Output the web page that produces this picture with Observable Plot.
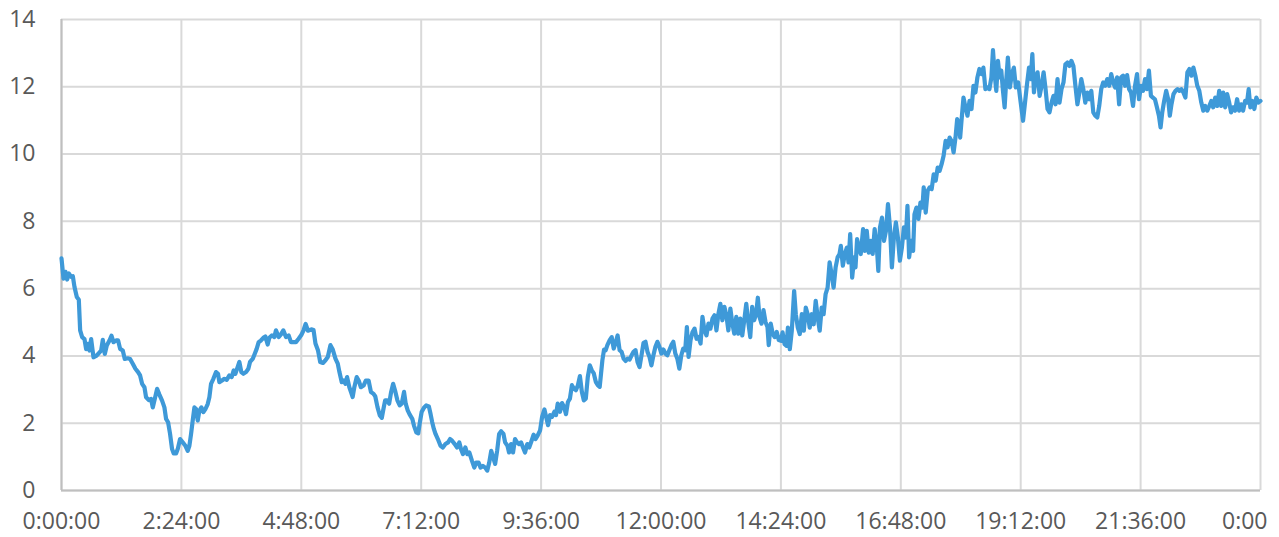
<!DOCTYPE html>
<html>
<head>
<meta charset="utf-8">
<script src="https://cdn.jsdelivr.net/npm/d3@7"></script>
<script src="https://cdn.jsdelivr.net/npm/@observablehq/plot@0.6"></script>
<style>
  html, body { margin: 0; padding: 0; background: #ffffff; overflow: hidden; }
</style>
</head>
<body>
<div id="chart"></div>
<script>
// Time of day, in minutes since 0:00:00
const minutes = [
  0, 2.4, 4.8, 6.8, 8.8, 11.6, 13.6, 15.6, 18.4, 20.8,
  22.4, 24.8, 27.6, 29.6, 31.6, 33.6, 35.6, 38.4, 41.6, 44.8,
  47.6, 49.6, 52, 54.4, 57.6, 60, 62.4, 65.6, 68, 70.4,
  73.6, 76, 79.6, 82.4, 85.6, 88.8, 92, 94.4, 96.8, 99.6,
  101.6, 104.8, 107.6, 109.6, 112, 114.8, 117.6, 120.8, 123.6, 125.6,
  128, 130.4, 132.8, 134.8, 137.6, 139.6, 142.4, 145.6, 148.8, 151.6,
  153.6, 155.6, 157.6, 159.6, 161.6, 163.6, 165.6, 168, 170.4, 172.8,
  175.6, 177.6, 179.6, 182.4, 185.6, 188, 189.6, 192.8, 195.6, 198.4,
  201.6, 204.4, 206.8, 208.8, 211.6, 213.6, 216, 218.4, 221.6, 224.4,
  226.4, 229.6, 232, 234.4, 236.8, 239.6, 242.4, 244.8, 247.6, 249.6,
  252.8, 255.6, 257.6, 260.8, 263.6, 266.4, 269.6, 272.8, 275.6, 278.4,
  281.6, 284.8, 288, 290.8, 293.2, 296, 300, 302.7, 305, 308,
  310.7, 314, 317, 319.8, 323, 325.8, 329, 331.8, 333.8, 336.6,
  339, 341, 343, 345.7, 347.7, 349.7, 351.7, 354.5, 356.9, 359.6,
  362.8, 365.6, 368.8, 371.6, 374.4, 376.8, 379.5, 382.3, 384.7, 386.7,
  388.7, 391, 393.5, 395.9, 398.3, 400.6, 403.4, 406.2, 408.6, 411.4,
  413.4, 415.8, 418.1, 421.3, 423.3, 426.1, 428.5, 430.1, 432.5, 435.3,
  438, 441.2, 443.2, 445.2, 447.2, 449.2, 452, 455.2, 458, 461.1,
  464.3, 466.7, 469.1, 472.3, 475.1, 477.8, 479.8, 482.2, 485, 487.4,
  489.8, 493, 495.8, 498.1, 500.9, 503.3, 506.1, 508.9, 511.3, 513.7,
  516.1, 518.5, 520.8, 523.2, 525.6, 528, 530.8, 532.8, 535.6, 537.5,
  539.9, 542.3, 544.7, 547.1, 549.5, 551.9, 554.3, 556.7, 559.4, 561.8,
  564.6, 567, 569.4, 571.8, 574.8, 577.2, 580, 582, 584.4, 586.7,
  589.1, 591.9, 593.9, 595.9, 598.7, 601.1, 603.5, 605.9, 608.2, 610.6,
  613, 615.4, 617.8, 620.2, 622.6, 625, 627.3, 629.7, 632.1, 634.5,
  636.9, 639.3, 641.7, 644.1, 646.4, 648, 649.6, 651.6, 653.6, 655.6,
  658.4, 660.8, 663.2, 665.5, 667.9, 670.3, 672.7, 675.1, 677.5, 679.9,
  682.3, 684.7, 687, 689.4, 691.8, 694.2, 696.6, 699, 701.4, 703.8,
  706.2, 708.5, 710.9, 713.3, 715.7, 718.1, 720.5, 722.9, 725.3, 727.6,
  730, 732.4, 734.8, 737.2, 739.6, 742, 744.4, 746.7, 749.1, 751.1,
  753.1, 755.5, 757.9, 760.3, 762.7, 765.1, 767.5, 769.8, 772.2, 774.6,
  777, 779.4, 781.8, 784.2, 786.6, 789, 791.3, 793.7, 796.1, 798.5,
  800.9, 803.3, 805.7, 808, 810.4, 812.8, 815.2, 817.6, 820, 822.4,
  824.8, 827.2, 829.5, 831.9, 834.3, 836.3, 838.3, 840.7, 843.1, 845.5,
  847.9, 849.4, 851.8, 854.2, 856.6, 859, 861.4, 864, 866, 868.4,
  870.8, 872.4, 874.7, 877.1, 879.9, 881.9, 884.3, 886.7, 889.1, 891.5,
  893.9, 896.2, 898.6, 901, 903.4, 905.8, 908.2, 910.6, 913, 915.3,
  917.7, 920.1, 922.5, 924.9, 927.3, 929.7, 932.1, 934.4, 936, 938.4,
  940.8, 943.2, 945.2, 947.2, 949.6, 952, 953.6, 955.5, 957.5, 959.9,
  962.7, 964.7, 967.1, 969.5, 971.9, 974.2, 976.6, 979, 981, 983,
  985.4, 987.8, 990.2, 992.6, 995, 997.3, 999.7, 1002.1, 1004.5, 1006.9,
  1009.3, 1011.7, 1014.1, 1016, 1018, 1020.4, 1022.8, 1024.4, 1026.8, 1029.2,
  1031.6, 1034, 1035.5, 1037.9, 1040.3, 1042.7, 1045.1, 1047.5, 1049.9, 1052.3,
  1054.6, 1057, 1059.4, 1061.8, 1064.2, 1066.6, 1069, 1071.4, 1073.7, 1075.7,
  1077.7, 1079.3, 1080.9, 1083.3, 1085.7, 1088.1, 1090.5, 1092.9, 1095.3, 1097.6,
  1100, 1102.4, 1104.8, 1107.2, 1109.6, 1112, 1114.4, 1116.8, 1118.7, 1120.7,
  1122.7, 1124.7, 1126.7, 1128.7, 1130.7, 1132.7, 1134.6, 1136.6, 1139, 1141.4,
  1143.8, 1146.2, 1149, 1152, 1154.8, 1157.2, 1159.6, 1162, 1164, 1166,
  1167.9, 1169.9, 1172.3, 1174.7, 1177.1, 1179.5, 1181.9, 1184.2, 1186.6, 1189,
  1191.4, 1193.8, 1196.2, 1198.6, 1201, 1203.4, 1205.7, 1208.1, 1210.5, 1212.9,
  1215.3, 1217.7, 1220.1, 1222.5, 1224.8, 1227.2, 1229.6, 1232, 1234.4, 1236.8,
  1239.2, 1241.6, 1244, 1246.3, 1248.7, 1251.1, 1253.5, 1255.9, 1258.3, 1260.7,
  1263.1, 1265.4, 1267.8, 1270.2, 1272.6, 1275, 1277.4, 1279.8, 1282.2, 1284.5,
  1286.9, 1289.3, 1291.7, 1294.1, 1296.5, 1298.9, 1301.3, 1303.6, 1306, 1308.4,
  1310.8, 1313.2, 1315.6, 1318, 1320, 1322, 1324.3, 1326.7, 1329.1, 1331.1,
  1333.1, 1335.5, 1337.9, 1340.3, 1342.6, 1345, 1347.4, 1349.8, 1352.2, 1354.6,
  1357, 1359.4, 1361.8, 1364.1, 1366.5, 1368.9, 1371.3, 1373.7, 1376.1, 1378.5,
  1380.9, 1383.2, 1385.6, 1388, 1390.4, 1392.8, 1395.2, 1397.6, 1400, 1402.4,
  1404.7, 1407.1, 1409.5, 1411.9, 1414.3, 1416.7, 1419.1, 1421.5, 1423.8, 1425.8,
  1427.8, 1430.2, 1432.6, 1435, 1437.4, 1440
];

// Measured level at each time
const levels = [
  6.9, 6.3, 6.5, 6.27, 6.45, 6.35, 6.37, 6.05, 5.75, 5.67,
  4.76, 4.56, 4.5, 4.2, 4.36, 4.16, 4.5, 3.96, 4.0, 4.08,
  4.16, 4.48, 4.06, 4.31, 4.46, 4.6, 4.41, 4.46, 4.46, 4.21,
  4.16, 3.91, 3.93, 3.91, 3.77, 3.62, 3.52, 3.42, 3.17, 3.07,
  2.77, 2.69, 2.72, 2.47, 2.72, 3.02, 2.85, 2.67, 2.47, 2.13,
  2.03, 1.68, 1.23, 1.1, 1.1, 1.23, 1.53, 1.43, 1.33, 1.18,
  1.33, 1.68, 2.08, 2.47, 2.42, 2.08, 2.37, 2.47, 2.33, 2.42,
  2.57, 2.77, 3.17, 3.32, 3.52, 3.47, 3.22, 3.27, 3.32, 3.29,
  3.42, 3.37, 3.57, 3.47, 3.67, 3.82, 3.52, 3.47, 3.52, 3.62,
  3.82, 3.91, 4.06, 4.21, 4.41, 4.46, 4.54, 4.58, 4.34, 4.54,
  4.61, 4.56, 4.76, 4.56, 4.64, 4.76, 4.56, 4.61, 4.41, 4.41,
  4.41, 4.51, 4.62, 4.77, 4.95, 4.75, 4.79, 4.77, 4.37, 4.17,
  3.82, 3.79, 3.87, 3.97, 4.32, 4.19, 3.92, 3.77, 3.52, 3.22,
  3.27, 3.17, 3.37, 3.07, 2.93, 2.78, 3.07, 3.37, 3.27, 3.07,
  3.12, 3.27, 3.27, 2.93, 2.88, 2.8, 2.48, 2.23, 2.16, 2.43,
  2.68, 2.68, 2.58, 2.93, 3.17, 2.97, 2.68, 2.53, 2.58, 2.93,
  2.58, 2.38, 2.26, 2.13, 1.93, 1.73, 1.7, 1.98, 2.33, 2.46,
  2.53, 2.5, 2.28, 2.03, 1.83, 1.68, 1.53, 1.33, 1.28, 1.38,
  1.43, 1.53, 1.48, 1.38, 1.28, 1.43, 1.23, 1.08, 1.28, 1.08,
  1.13, 0.88, 0.68, 0.83, 0.83, 0.68, 0.73, 0.68, 0.59, 0.83,
  1.18, 0.98, 0.79, 1.18, 1.68, 1.76, 1.68, 1.43, 1.33, 1.13,
  1.38, 1.13, 1.53, 1.43, 1.38, 1.43, 1.28, 1.13, 1.38, 1.28,
  1.48, 1.66, 1.53, 1.63, 1.79, 2.19, 2.41, 2.19, 1.94, 2.24,
  2.19, 2.34, 2.24, 2.58, 2.34, 2.6, 2.49, 2.27, 2.63, 2.73,
  3.13, 3.03, 2.98, 3.13, 3.4, 2.93, 2.68, 2.73, 3.38, 3.72,
  3.57, 3.48, 3.23, 3.13, 3.08, 3.48, 3.87, 4.19, 4.17, 4.32,
  4.47, 4.56, 4.22, 4.39, 4.61, 4.17, 4.12, 3.92, 3.85, 3.92,
  3.89, 4.02, 4.12, 4.17, 3.82, 3.67, 4.02, 4.39, 4.42, 4.12,
  3.97, 3.72, 4.02, 4.27, 4.42, 4.27, 4.07, 4.19, 4.07, 4.02,
  4.17, 4.32, 4.42, 4.07, 3.92, 3.62, 4.02, 4.22, 4.17, 4.86,
  3.97, 4.47, 4.71, 4.81, 4.51, 4.56, 4.37, 5.16, 4.76, 4.61,
  4.96, 4.81, 5.11, 5.21, 4.76, 5.26, 5.55, 5.06, 5.46, 5.21,
  4.76, 5.41, 4.96, 4.66, 5.16, 4.66, 5.11, 4.61, 5.06, 5.55,
  5.01, 4.56, 5.46, 5.06, 5.26, 5.73, 5.16, 4.96, 5.36, 5.01,
  4.86, 4.32, 4.96, 4.66, 4.56, 4.71, 4.47, 4.45, 4.7, 4.35,
  4.3, 4.84, 4.2, 4.75, 5.93, 5.24, 4.84, 4.65, 5.24, 4.75,
  5.44, 5.24, 4.84, 5.24, 4.94, 5.64, 5.14, 4.75, 5.44, 5.24,
  5.84, 6.03, 6.78, 6.43, 6.03, 6.63, 6.93, 7.03, 7.27, 6.68,
  7.03, 7.22, 6.78, 7.62, 6.33, 6.93, 6.63, 7.47, 7.22, 7.03,
  7.77, 7.12, 7.72, 7.07, 7.42, 7.03, 7.77, 7.32, 6.53, 7.82,
  8.11, 7.42, 7.72, 8.51, 7.82, 6.63, 7.52, 7.97, 7.52, 6.83,
  7.22, 7.82, 7.52, 8.46, 6.93, 7.42, 7.12, 8.21, 8.41, 8.07,
  8.56, 8.41, 9.01, 8.26, 8.91, 9.01, 8.96, 9.4, 9.21, 9.6,
  9.5, 9.7, 9.95, 10.39, 10.2, 10.49, 10.39, 10.05, 10.49, 11.04,
  10.89, 10.49, 10.99, 11.68, 11.39, 11.14, 11.58, 11.34, 12.03, 11.83,
  12.28, 12.53, 12.38, 12.57, 11.93, 11.98, 11.93, 12.28, 13.09, 12.38,
  11.88, 12.77, 12.28, 12.48, 11.88, 11.39, 12.18, 12.87, 11.98, 12.38,
  12.57, 11.98, 12.13, 11.53, 10.99, 11.53, 12.08, 12.57, 12.23, 12.97,
  11.83, 12.28, 12.43, 11.73, 12.03, 12.43, 11.93, 11.34, 11.24, 11.53,
  11.73, 11.48, 12.23, 11.53, 11.93, 12.13, 12.67, 12.72, 12.62, 12.77,
  12.62, 12.03, 11.48, 11.83, 12.23, 11.93, 11.53, 11.83, 11.63, 11.88,
  11.24, 11.14, 11.09, 11.43, 11.93, 12.13, 12.03, 12.23, 12.03, 12.38,
  12.13, 11.98, 12.28, 11.48, 12.28, 12.33, 12.03, 12.35, 11.93, 11.83,
  11.43, 12.03, 12.38, 11.63, 12.03, 11.88, 12.23, 11.93, 12.48, 11.73,
  11.68, 11.63, 11.39, 11.14, 10.79, 11.24, 11.58, 11.88, 11.63, 11.14,
  11.48, 11.78, 11.88, 11.93, 11.88, 11.93, 11.83, 11.68, 12.43, 12.53,
  12.33, 12.57, 12.33, 12.03, 11.88, 11.53, 11.29, 11.43, 11.29, 11.43,
  11.58, 11.39, 11.68, 11.43, 11.88, 11.43, 11.83, 11.39, 11.78, 11.53,
  11.24, 11.39, 11.29, 11.63, 11.29, 11.48, 11.29, 11.58, 11.53, 11.93,
  11.39, 11.58, 11.34, 11.68, 11.53, 11.58
];

// Axis ticks and their labels
const xTicks = [0, 144, 288, 432, 576, 720, 864, 1008, 1152, 1296, 1440];
const xTickLabels = ["0:00:00", "2:24:00", "4:48:00", "7:12:00", "9:36:00", "12:00:00",
                     "14:24:00", "16:48:00", "19:12:00", "21:36:00", "0:00"];
const yTicks = [0, 2, 4, 6, 8, 10, 12, 14];
const yTickLabels = ["0", "2", "4", "6", "8", "10", "12", "14"];

const data = minutes.map((m, i) => ({ m, v: levels[i] }));

const gridColor = "#d9d9d9";
const axisColor = "#bfbfbf";
const lineColor = "#3e99d8";

const chart = Plot.plot({
  width: 1279,
  height: 537,
  marginLeft: 61,
  marginRight: 19,
  marginTop: 19,
  marginBottom: 47,
  style: { fontFamily: "'Open Sans', sans-serif", fontSize: "23px", color: "#595959", background: "#ffffff" },
  x: { domain: [0, 1440], label: null },
  y: { domain: [0, 14], label: null },
  marks: [
    Plot.gridX(xTicks, { stroke: gridColor, strokeOpacity: 1, strokeWidth: 2 }),
    Plot.gridY(yTicks, { stroke: gridColor, strokeOpacity: 1, strokeWidth: 2 }),
    Plot.ruleY([0], { stroke: axisColor, strokeWidth: 2 }),
    Plot.ruleX([0], { stroke: axisColor, strokeWidth: 2 }),
    Plot.line(data, { x: "m", y: "v", stroke: lineColor, strokeWidth: 4.2, strokeLinejoin: "round", strokeLinecap: "round" }),
    Plot.axisY(yTicks, { tickSize: 0, tickPadding: 26, label: null, tickFormat: (d) => yTickLabels[yTicks.indexOf(d)] }),
    Plot.axisX(xTicks.slice(0, -1), { tickSize: 0, tickPadding: 22, label: null, tickFormat: (d) => xTickLabels[xTicks.indexOf(d)] }),
    Plot.axisX(xTicks.slice(-1), { tickSize: 0, tickPadding: 22, label: null, textAnchor: "end", dx: 7, tickFormat: (d) => xTickLabels[xTicks.indexOf(d)] })
  ]
});

document.getElementById("chart").appendChild(chart);
</script>
</body>
</html>
